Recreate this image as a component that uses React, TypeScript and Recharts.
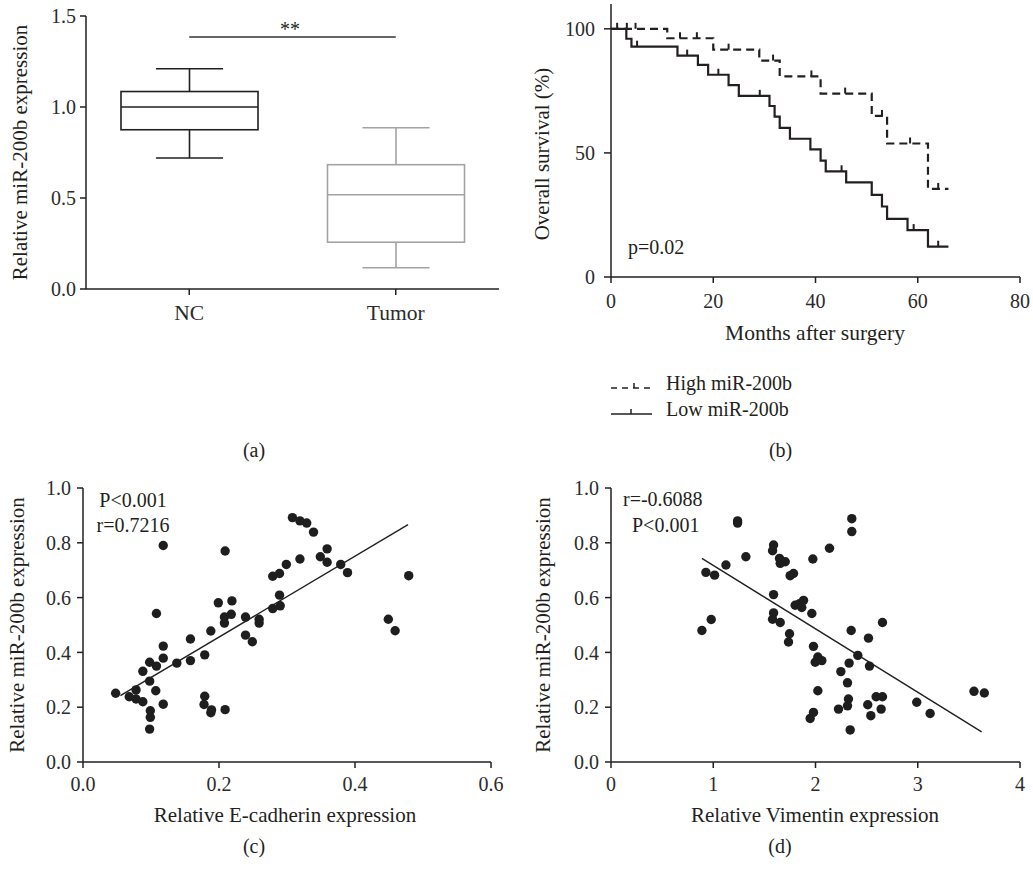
import React from 'react';
import {
  ComposedChart,
  ScatterChart,
  Bar,
  Line,
  Scatter,
  XAxis,
  YAxis,
  ReferenceLine,
  Customized,
} from 'recharts';

const FONT = '"Liberation Serif", "Times New Roman", serif';
const INK = '#231f20';
const TICK_FILL = '#2b2b2b';

// ---------- Panel (a): box plot ----------
const boxCategories = ['NC', 'Tumor'];
const boxMin = [0.72, 0.117];
const boxQ1 = [0.875, 0.257];
const boxMedian = [1.0, 0.518];
const boxQ3 = [1.085, 0.683];
const boxMax = [1.21, 0.886];
const boxColors = ['#231f20', '#a3a3a3'];
const boxTicks = [0, 0.5, 1.0, 1.5];
const significanceY = 1.385;

// ---------- Panel (b): survival ----------
const highMonths = [0, 11, 20, 29, 33, 41, 51, 54, 62, 66];
const highSurvival = [100, 96.2, 91.6, 87.2, 80.8, 73.9, 64.9, 53.8, 35.5, 35.5];
const lowMonths = [0, 3, 4, 13, 17, 19, 23, 25, 31, 32, 33, 35, 39, 41, 42, 46, 51, 53, 54, 58, 62, 66];
const lowSurvival = [100, 96, 92.8, 89.2, 85.5, 81.5, 77.3, 73, 68.9, 64.6, 60.1, 55.7, 51.4, 46.9, 42.6, 38.1, 33.1, 28.4, 23.4, 18.9, 12.2, 12.2];
const highCensorMonths = [1.2, 3.1, 4.8, 13.5, 16.8, 23, 31.7, 39.2, 45.8, 53, 58.5, 64];
const highCensorSurvival = [100, 100, 100, 96.2, 96.2, 91.6, 87.2, 80.8, 73.9, 64.9, 53.8, 35.5];
const lowCensorMonths = [5.1, 14.9, 21, 29.1, 45.1, 59.2, 64];
const lowCensorSurvival = [92.8, 89.2, 81.5, 73, 42.6, 18.9, 12.2];
const monthTicks = [0, 20, 40, 60, 80];
const survivalTicks = [0, 50, 100];

// ---------- Panel (c): E-cadherin scatter ----------
const cadherinX = [0.048, 0.068, 0.078, 0.078, 0.088, 0.088, 0.098, 0.098, 0.099, 0.099, 0.098, 0.108, 0.107, 0.108, 0.118, 0.118, 0.118, 0.118, 0.138, 0.158, 0.158, 0.179, 0.179, 0.178, 0.188, 0.189, 0.188, 0.199, 0.209, 0.208, 0.208, 0.209, 0.219, 0.218, 0.239, 0.239, 0.249, 0.259, 0.259, 0.279, 0.279, 0.289, 0.289, 0.29, 0.299, 0.308, 0.319, 0.319, 0.329, 0.339, 0.349, 0.359, 0.359, 0.379, 0.389, 0.449, 0.459, 0.479];
const cadherinY = [0.251, 0.238, 0.263, 0.23, 0.22, 0.331, 0.364, 0.295, 0.187, 0.163, 0.12, 0.35, 0.26, 0.542, 0.423, 0.379, 0.211, 0.79, 0.361, 0.449, 0.37, 0.391, 0.24, 0.21, 0.18, 0.19, 0.478, 0.581, 0.77, 0.529, 0.507, 0.191, 0.588, 0.539, 0.529, 0.463, 0.439, 0.521, 0.507, 0.678, 0.56, 0.688, 0.609, 0.57, 0.721, 0.892, 0.88, 0.741, 0.872, 0.839, 0.749, 0.778, 0.729, 0.721, 0.691, 0.521, 0.479, 0.68];
const cadherinFitRange = [0.055, 0.478];
const cadherinSlope = 1.475;
const cadherinIntercept = 0.161;
const cadherinTicks = [0, 0.2, 0.4, 0.6];

// ---------- Panel (d): Vimentin scatter ----------
const vimentinX = [0.889, 0.928, 1.013, 0.98, 1.124, 1.238, 1.238, 1.319, 1.59, 1.58, 1.648, 1.655, 1.704, 1.752, 1.785, 1.59, 1.59, 1.58, 1.655, 1.746, 1.736, 1.801, 1.844, 1.883, 1.866, 1.964, 1.974, 2.137, 1.98, 1.997, 2.023, 2.062, 2.023, 1.948, 1.98, 2.225, 2.248, 2.313, 2.322, 2.313, 2.329, 2.355, 2.355, 2.349, 2.339, 2.414, 2.518, 2.528, 2.511, 2.541, 2.593, 2.655, 2.642, 2.655, 2.99, 3.121, 3.55, 3.651];
const vimentinY = [0.48, 0.692, 0.682, 0.52, 0.719, 0.88, 0.872, 0.749, 0.792, 0.771, 0.743, 0.725, 0.731, 0.68, 0.688, 0.611, 0.544, 0.521, 0.509, 0.468, 0.438, 0.572, 0.578, 0.59, 0.564, 0.542, 0.741, 0.78, 0.422, 0.364, 0.383, 0.37, 0.26, 0.159, 0.181, 0.193, 0.33, 0.289, 0.23, 0.205, 0.361, 0.888, 0.841, 0.48, 0.117, 0.389, 0.452, 0.35, 0.209, 0.169, 0.238, 0.238, 0.193, 0.509, 0.218, 0.177, 0.258, 0.252];
const vimentinFitRange = [0.889, 3.625];
const vimentinSlope = -0.2314;
const vimentinIntercept = 0.949;
const vimentinTicks = [0, 1, 2, 3, 4];
const expressionTicks = [0, 0.2, 0.4, 0.6, 0.8, 1.0];

// ---------- derived tables ----------
const boxData = boxCategories.map((name, i) => ({
  name,
  box: [boxQ1[i], boxQ3[i]],
  min: boxMin[i],
  q1: boxQ1[i],
  median: boxMedian[i],
  q3: boxQ3[i],
  max: boxMax[i],
  color: boxColors[i],
}));
const highData = highMonths.map((m, i) => ({ month: m, survival: highSurvival[i] }));
const lowData = lowMonths.map((m, i) => ({ month: m, survival: lowSurvival[i] }));
const highCensor = highCensorMonths.map((m, i) => ({ month: m, survival: highCensorSurvival[i] }));
const lowCensor = lowCensorMonths.map((m, i) => ({ month: m, survival: lowCensorSurvival[i] }));
const cadherinData = cadherinX.map((x, i) => ({ x, y: cadherinY[i] }));
const vimentinData = vimentinX.map((x, i) => ({ x, y: vimentinY[i] }));
const cadherinSegment = cadherinFitRange.map((x) => ({ x, y: cadherinSlope * x + cadherinIntercept }));
const vimentinSegment = vimentinFitRange.map((x) => ({ x, y: vimentinSlope * x + vimentinIntercept }));

const tickStyle = { fill: TICK_FILL, fontSize: 20, fontFamily: FONT };
const catTickStyle = { fill: TICK_FILL, fontSize: 21.5, fontFamily: FONT };
const axisLineStyle = { stroke: INK, strokeWidth: 1.5 };
const fmt1 = (v: number) => v.toFixed(1);
const textProps = { fontFamily: FONT, fontSize: 20, fill: INK };
const titleProps = { fontFamily: FONT, fontSize: 21, fill: INK };

const BoxShape = (props: any) => {
  const { x, y, width, height, payload } = props;
  if (!payload) return null;
  const { q1, q3, median, min, max, color } = payload;
  const top = Math.min(y, y + height);
  const h = Math.abs(height);
  const pxPerUnit = h / (q3 - q1);
  const yOf = (v: number) => top + (q3 - v) * pxPerUnit;
  const cx = x + width / 2;
  const capHalf = width * 0.245;
  const sw = 1.6;
  return (
    <g stroke={color} strokeWidth={sw} fill="none">
      <line x1={cx} x2={cx} y1={yOf(max)} y2={yOf(q3)} />
      <line x1={cx} x2={cx} y1={yOf(q1)} y2={yOf(min)} />
      <line x1={cx - capHalf} x2={cx + capHalf} y1={yOf(max)} y2={yOf(max)} />
      <line x1={cx - capHalf} x2={cx + capHalf} y1={yOf(min)} y2={yOf(min)} />
      <rect x={x} y={top} width={width} height={h} fill="#fff" />
      <line x1={x} x2={x + width} y1={yOf(median)} y2={yOf(median)} />
    </g>
  );
};

const CensorMark = (props: any) => {
  const { cx, cy } = props;
  if (cx == null || cy == null) return null;
  return <line x1={cx} x2={cx} y1={cy} y2={cy - 6} stroke={INK} strokeWidth={2} />;
};

const Dot = (props: any) => {
  const { cx, cy } = props;
  if (cx == null || cy == null) return null;
  return <circle cx={cx} cy={cy} r={4.7} fill="#1e1e1e" />;
};

function PanelA() {
  return (
    <ComposedChart
      width={516}
      height={470}
      data={boxData}
      margin={{ top: 16, right: 17, bottom: 151, left: 26 }}
    >
      <XAxis
        dataKey="name"
        axisLine={axisLineStyle}
        tickLine={axisLineStyle}
        tickSize={6}
        tickMargin={10}
        tick={catTickStyle}
        height={30}
      />
      <YAxis
        type="number"
        domain={[0, 1.5]}
        ticks={boxTicks}
        tickFormatter={fmt1}
        interval={0}
        axisLine={axisLineStyle}
        tickLine={axisLineStyle}
        tickSize={6}
        tickMargin={4}
        tick={tickStyle}
        width={60}
      />
      <Bar dataKey="box" barSize={137} shape={<BoxShape />} isAnimationActive={false} />
      <ReferenceLine
        segment={[
          { x: boxCategories[0], y: significanceY },
          { x: boxCategories[1], y: significanceY },
        ]}
        stroke="#333"
        strokeWidth={1.5}
      />
      <Customized
        component={() => (
          <g>
            <text x={290} y={36} textAnchor="middle" {...textProps}>**</text>
            <text x={27} y={152.5} textAnchor="middle" transform="rotate(-90 27 152.5)" {...titleProps}>
              Relative miR-200b expression
            </text>
            <text x={254} y={457} textAnchor="middle" {...textProps}>(a)</text>
          </g>
        )}
      />
    </ComposedChart>
  );
}

function PanelB() {
  return (
    <ComposedChart width={517} height={470} margin={{ top: 4, right: 13, bottom: 163, left: 35 }}>
      <XAxis
        type="number"
        dataKey="month"
        domain={[0, 80]}
        ticks={monthTicks}
        interval={0}
        axisLine={axisLineStyle}
        tickLine={axisLineStyle}
        tickSize={6}
        tickMargin={11}
        tick={tickStyle}
        height={30}
        allowDuplicatedCategory={false}
      />
      <YAxis
        type="number"
        dataKey="survival"
        domain={[0, 110]}
        ticks={survivalTicks}
        interval={0}
        axisLine={axisLineStyle}
        tickLine={axisLineStyle}
        tickSize={7}
        tickMargin={9}
        tick={tickStyle}
        width={60}
      />
      <Line
        data={highData}
        dataKey="survival"
        type="stepAfter"
        stroke={INK}
        strokeWidth={2.2}
        strokeDasharray="8 5"
        dot={false}
        activeDot={false}
        isAnimationActive={false}
      />
      <Line
        data={lowData}
        dataKey="survival"
        type="stepAfter"
        stroke={INK}
        strokeWidth={2.2}
        dot={false}
        activeDot={false}
        isAnimationActive={false}
      />
      <Scatter data={highCensor} dataKey="survival" shape={<CensorMark />} isAnimationActive={false} />
      <Scatter data={lowCensor} dataKey="survival" shape={<CensorMark />} isAnimationActive={false} />
      <Customized
        component={() => (
          <g>
            <text x={112} y={254} {...textProps}>p=0.02</text>
            <text x={33} y={154} textAnchor="middle" transform="rotate(-90 33 154)" {...titleProps}>
              Overall survival (%)
            </text>
            <text x={299} y={340} textAnchor="middle" {...titleProps} fontSize={21.5}>Months after surgery</text>
            <line x1={95} x2={136} y1={388} y2={388} stroke={INK} strokeWidth={1.5} strokeDasharray="6 5" />
            <line x1={118} x2={118} y1={388} y2={383} stroke={INK} strokeWidth={1.5} />
            <text x={150} y={390} {...textProps}>High miR-200b</text>
            <line x1={95} x2={136} y1={414} y2={414} stroke={INK} strokeWidth={1.5} />
            <line x1={115} x2={115} y1={414} y2={409} stroke={INK} strokeWidth={1.5} />
            <text x={150} y={416} {...textProps}>Low miR-200b</text>
            <text x={264.6} y={457} textAnchor="middle" {...textProps}>(b)</text>
          </g>
        )}
      />
    </ComposedChart>
  );
}

function ScatterPanel(props: {
  data: { x: number; y: number }[];
  segment: { x: number; y: number }[];
  xDomain: [number, number];
  xTicks: number[];
  xFormat: (v: number) => string;
  marginLeft: number;
  marginRight: number;
  xLabel: string;
  xLabelCenter: number;
  yLabelX: number;
  panelLabel: string;
  panelLabelX: number;
  notes: { text: string; x: number; y: number; anchor: 'start' | 'middle' }[];
}) {
  const p = props;
  return (
    <ScatterChart
      width={p.marginRight === 25 ? 516 : 517}
      height={404}
      margin={{ top: 18, right: p.marginRight, bottom: 82, left: p.marginLeft }}
    >
      <XAxis
        type="number"
        dataKey="x"
        domain={p.xDomain}
        ticks={p.xTicks}
        tickFormatter={p.xFormat}
        interval={0}
        axisLine={axisLineStyle}
        tickLine={axisLineStyle}
        tickSize={6}
        tickMargin={9}
        tick={tickStyle}
        height={30}
      />
      <YAxis
        type="number"
        dataKey="y"
        domain={[0, 1]}
        ticks={expressionTicks}
        tickFormatter={fmt1}
        interval={0}
        axisLine={axisLineStyle}
        tickLine={axisLineStyle}
        tickSize={6}
        tickMargin={6}
        tick={tickStyle}
        width={60}
      />
      <Scatter data={p.data} shape={<Dot />} isAnimationActive={false} />
      <ReferenceLine segment={p.segment} stroke={INK} strokeWidth={1.4} />
      <Customized
        component={() => (
          <g>
            {p.notes.map((n) => (
              <text key={n.text} x={n.x} y={n.y} textAnchor={n.anchor} {...textProps}>
                {n.text}
              </text>
            ))}
            <text x={p.yLabelX} y={155} textAnchor="middle" transform={`rotate(-90 ${p.yLabelX} 155)`} {...titleProps}>
              Relative miR-200b expression
            </text>
            <text x={p.xLabelCenter} y={352} textAnchor="middle" {...titleProps}>{p.xLabel}</text>
            <text x={p.panelLabelX} y={383} textAnchor="middle" {...textProps}>{p.panelLabel}</text>
          </g>
        )}
      />
    </ScatterChart>
  );
}

export default function App() {
  return (
    <div
      style={{
        position: 'absolute',
        left: 0,
        top: 0,
        width: 1033,
        height: 874,
        background: '#fff',
        fontFamily: FONT,
        overflow: 'hidden',
      }}
    >
      <div style={{ position: 'absolute', left: 0, top: 0 }}>
        <PanelA />
      </div>
      <div style={{ position: 'absolute', left: 516, top: 0 }}>
        <PanelB />
      </div>
      <div style={{ position: 'absolute', left: 0, top: 470 }}>
        <ScatterPanel
          data={cadherinData}
          segment={cadherinSegment}
          xDomain={[0, 0.6]}
          xTicks={cadherinTicks}
          xFormat={fmt1}
          marginLeft={23}
          marginRight={25}
          xLabel="Relative E-cadherin expression"
          xLabelCenter={285}
          yLabelX={24}
          panelLabel="(c)"
          panelLabelX={254}
          notes={[
            { text: 'P<0.001', x: 133, y: 37, anchor: 'middle' },
            { text: 'r=0.7216', x: 133, y: 62, anchor: 'middle' },
          ]}
        />
      </div>
      <div style={{ position: 'absolute', left: 516, top: 470 }}>
        <ScatterPanel
          data={vimentinData}
          segment={vimentinSegment}
          xDomain={[0, 4]}
          xTicks={vimentinTicks}
          xFormat={(v: number) => String(v)}
          marginLeft={35}
          marginRight={13}
          xLabel="Relative Vimentin expression"
          xLabelCenter={299}
          yLabelX={34}
          panelLabel="(d)"
          panelLabelX={264}
          notes={[
            { text: 'r=-0.6088', x: 107, y: 36, anchor: 'start' },
            { text: 'P<0.001', x: 116, y: 62, anchor: 'start' },
          ]}
        />
      </div>
    </div>
  );
}
